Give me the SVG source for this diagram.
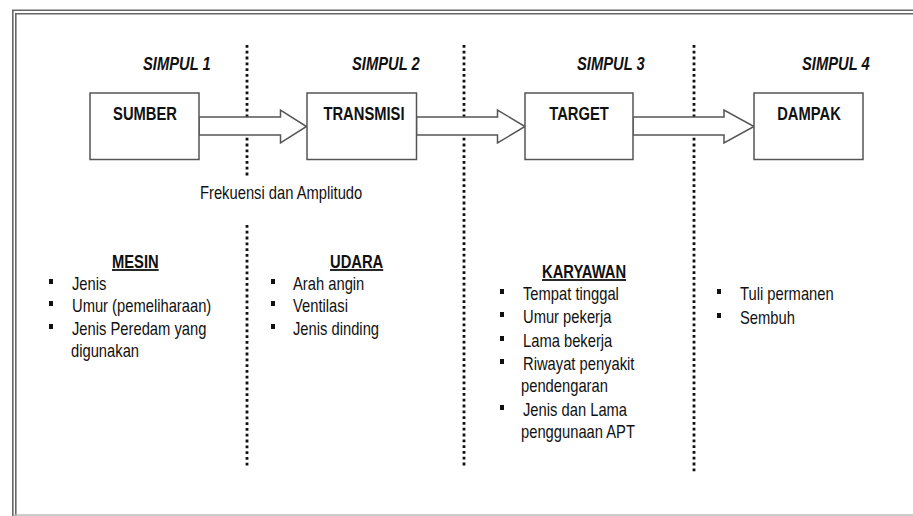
<svg xmlns="http://www.w3.org/2000/svg" width="913" height="516" viewBox="0 0 913 516">
<style>
  text { font-family: "Liberation Sans", Arial, sans-serif; fill: #111; font-size: 18px; }
  .simpul { font-weight: bold; font-style: italic; }
  .title { font-weight: bold; text-anchor: middle; }
  .head { font-weight: bold; text-decoration: underline; }
  .box { fill: #fff; stroke: #555; stroke-width: 1.5; }
  .arrow { fill: #fff; stroke: #555; stroke-width: 1.5; stroke-linejoin: miter; }
  .dots { stroke: #111; stroke-width: 2.8; stroke-dasharray: 2.8 3; fill: none; }
  .frame { stroke: #666; stroke-width: 1.6; fill: none; }
  .bul { fill: #111; }
</style>
<rect width="913" height="516" fill="#fff"/>
<g id="frame">
  <path class="frame" d="M12.8,516 V10.3 H913"/>
  <path class="frame" d="M15.8,516 V13.8 H913"/>
  <line x1="14" y1="515" x2="913" y2="515" stroke="#bbb" stroke-width="1.5"/>
</g>
<g id="dividers">
  <line class="dots" x1="247" y1="45" x2="247" y2="176"/>
  <line class="dots" x1="247" y1="225" x2="247" y2="466"/>
  <line class="dots" x1="464" y1="45" x2="464" y2="466"/>
  <line class="dots" x1="694" y1="45" x2="694" y2="472"/>
</g>
<g id="connectors">
  <polygon class="arrow" points="199,117 280.5,117 280.5,110 306.5,126.5 280.5,143 280.5,135 199,135"/>
  <polygon class="arrow" points="416.5,117 497.5,117 497.5,110 525,126.5 497.5,143 497.5,135 416.5,135"/>
  <polygon class="arrow" points="633,117 724,117 724,110 754,126.5 724,143 724,135 633,135"/>
</g>
<g id="simpul-labels">
  <text class="simpul" transform="matrix(0.82,0,0,1,143,70)">SIMPUL 1</text>
  <text class="simpul" transform="matrix(0.82,0,0,1,352,70)">SIMPUL 2</text>
  <text class="simpul" transform="matrix(0.82,0,0,1,577,70)">SIMPUL 3</text>
  <text class="simpul" transform="matrix(0.82,0,0,1,802,70)">SIMPUL 4</text>
</g>
<g id="node-sumber">
  <rect class="box" x="90" y="93" width="109" height="66.5"/>
  <text class="title" transform="matrix(0.82,0,0,1,145,120)">SUMBER</text>
</g>
<g id="node-transmisi">
  <rect class="box" x="307" y="93" width="109.5" height="66.5"/>
  <text class="title" transform="matrix(0.82,0,0,1,364,120)">TRANSMISI</text>
</g>
<g id="node-target">
  <rect class="box" x="525" y="93" width="108" height="66.5"/>
  <text class="title" transform="matrix(0.82,0,0,1,579,120)">TARGET</text>
</g>
<g id="node-dampak">
  <rect class="box" x="754" y="93" width="109" height="66.5"/>
  <text class="title" transform="matrix(0.82,0,0,1,809,120)">DAMPAK</text>
</g>
<g id="label-frekuensi">
  <text transform="matrix(0.82,0,0,1,200,199)">Frekuensi dan Amplitudo</text>
</g>
<g id="list-mesin">
  <text class="head" transform="matrix(0.82,0,0,1,112,268)">MESIN</text>
  <rect class="bul" x="49" y="279" width="4" height="5"/>
  <rect class="bul" x="49" y="301" width="4" height="5"/>
  <rect class="bul" x="49" y="324" width="4" height="5"/>
  <text transform="matrix(0.82,0,0,1,72,290)">Jenis</text>
  <text transform="matrix(0.82,0,0,1,72,312)">Umur (pemeliharaan)</text>
  <text transform="matrix(0.82,0,0,1,72,335)">Jenis Peredam yang</text>
  <text transform="matrix(0.82,0,0,1,71,357)">digunakan</text>
</g>
<g id="list-udara">
  <text class="head" transform="matrix(0.82,0,0,1,330,268)">UDARA</text>
  <rect class="bul" x="271" y="279" width="4" height="5"/>
  <rect class="bul" x="271" y="301" width="4" height="5"/>
  <rect class="bul" x="271" y="324" width="4" height="5"/>
  <text transform="matrix(0.82,0,0,1,293,290)">Arah angin</text>
  <text transform="matrix(0.82,0,0,1,293,312)">Ventilasi</text>
  <text transform="matrix(0.82,0,0,1,293,335)">Jenis dinding</text>
</g>
<g id="list-karyawan">
  <text class="head" transform="matrix(0.82,0,0,1,542,278)">KARYAWAN</text>
  <rect class="bul" x="500" y="289" width="4" height="5"/>
  <rect class="bul" x="500" y="312" width="4" height="5"/>
  <rect class="bul" x="500" y="336" width="4" height="5"/>
  <rect class="bul" x="500" y="359" width="4" height="5"/>
  <rect class="bul" x="500" y="405" width="4" height="5"/>
  <text transform="matrix(0.82,0,0,1,523,300)">Tempat tinggal</text>
  <text transform="matrix(0.82,0,0,1,523,323)">Umur pekerja</text>
  <text transform="matrix(0.82,0,0,1,523,347)">Lama bekerja</text>
  <text transform="matrix(0.82,0,0,1,523,370)">Riwayat penyakit</text>
  <text transform="matrix(0.82,0,0,1,521,392)">pendengaran</text>
  <text transform="matrix(0.82,0,0,1,523,416)">Jenis dan Lama</text>
  <text transform="matrix(0.82,0,0,1,521,438)">penggunaan APT</text>
</g>
<g id="list-dampak">
  <rect class="bul" x="717" y="289" width="4" height="5"/>
  <rect class="bul" x="717" y="313" width="4" height="5"/>
  <text transform="matrix(0.82,0,0,1,740,300)">Tuli permanen</text>
  <text transform="matrix(0.82,0,0,1,740,324)">Sembuh</text>
</g>
</svg>
